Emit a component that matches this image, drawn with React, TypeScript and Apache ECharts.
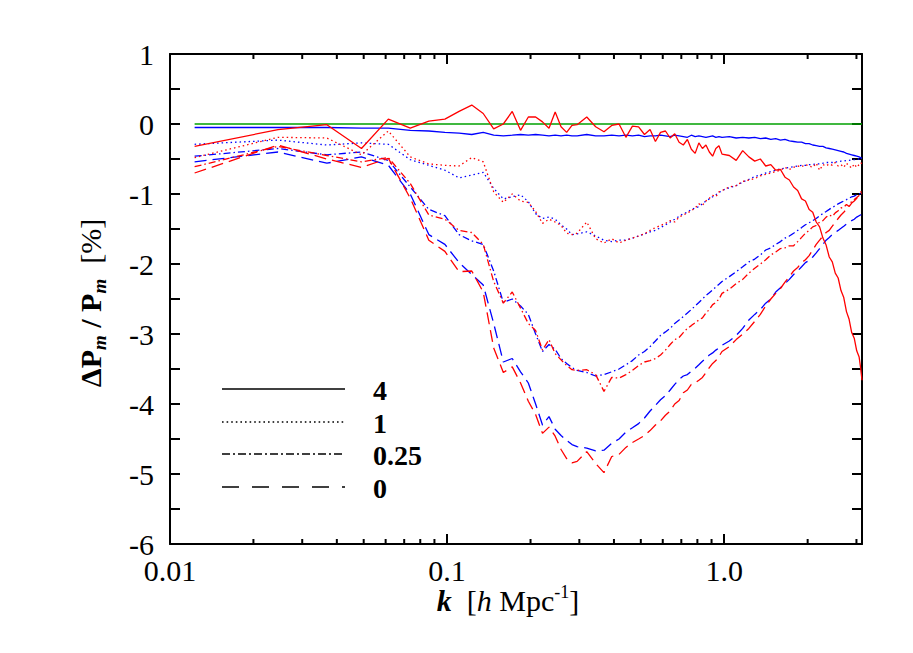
import React, { useEffect, useRef } from 'react';
import * as echarts from 'echarts';

// k bins [h/Mpc]
const kValues = [
  0.01227, 0.02454, 0.03682, 0.04909, 0.06136, 0.07363, 0.0859, 0.09817, 0.11045, 0.12272,
  0.13499, 0.14726, 0.15953, 0.1718, 0.18408, 0.19635, 0.20862, 0.22089, 0.23316, 0.24544,
  0.25771, 0.26998, 0.28225, 0.29452,
  0.31907, 0.34361, 0.36816, 0.3927, 0.41724, 0.44179, 0.46633, 0.49087, 0.51542, 0.53996,
  0.5645, 0.58905, 0.61359, 0.63814, 0.66268, 0.68722, 0.71177, 0.73631, 0.76085, 0.7854,
  0.80994, 0.83449, 0.85903, 0.88357, 0.90812, 0.93266, 0.9572, 0.98175,
  1.04311, 1.10447, 1.16583, 1.22718, 1.28854, 1.3499, 1.41126, 1.47262, 1.53398, 1.59534,
  1.6567, 1.71806, 1.77941, 1.84077, 1.90213, 1.96349, 2.02485, 2.08621, 2.14757, 2.20893,
  2.27029, 2.33165, 2.39301, 2.45437, 2.51573, 2.57709, 2.63845, 2.69981, 2.76117, 2.82252,
  2.88388, 2.94524, 3.0066, 3.06796, 3.10478, 3.14159,
];

// red = one simulation set, blue = the other; labels 4, 1, 0.25, 0
const red4 = [
  -0.32, -0.08, -0.01, -0.35, 0.07, -0.06, 0.04, 0.07, 0.18, 0.27, 0.15, -0.07, 0.0, 0.18, -0.09, 0.1, 0.1, 0.03, -0.06, 0.17, -0.04, -0.12, -0.02, -0.01,
  0.1, -0.04, -0.11, -0.02, 0.0, -0.19, -0.03, -0.04, -0.15, -0.08, -0.25, -0.12, -0.1, -0.2, -0.14, -0.26, -0.3, -0.22, -0.36, -0.42, -0.27, -0.35, -0.3, -0.4, -0.46, -0.35, -0.31, -0.43,
  -0.45, -0.52, -0.38, -0.47, -0.53, -0.5, -0.6, -0.58, -0.66, -0.65, -0.76, -0.8, -0.9, -0.95, -1.07, -1.1, -1.22, -1.26, -1.4, -1.47, -1.63, -1.73, -1.9, -1.97, -2.13, -2.2, -2.38, -2.48, -2.68, -2.79, -2.98, -3.06, -3.24, -3.33,
  -3.48, -3.66,
];
const blue4 = [
  -0.05, -0.05, -0.05, -0.06, -0.06, -0.09, -0.1, -0.12, -0.13, -0.15, -0.12, -0.16, -0.17, -0.16, -0.15, -0.16, -0.15, -0.16, -0.17, -0.16, -0.17, -0.16, -0.17, -0.17,
  -0.15, -0.17, -0.17, -0.16, -0.17, -0.16, -0.17, -0.16, -0.18, -0.17, -0.17, -0.16, -0.17, -0.18, -0.16, -0.17, -0.18, -0.19, -0.16, -0.18, -0.17, -0.18, -0.19, -0.18, -0.17, -0.19, -0.18, -0.19,
  -0.18, -0.2, -0.19, -0.2, -0.19, -0.21, -0.2, -0.22, -0.21, -0.23, -0.22, -0.24, -0.25, -0.26, -0.26, -0.28, -0.28, -0.3, -0.31, -0.32, -0.32, -0.34, -0.35, -0.36, -0.37, -0.38, -0.39, -0.4, -0.42, -0.43, -0.44, -0.45, -0.46, -0.47,
  -0.48, -0.49,
];
const red1 = [
  -0.48, -0.19, -0.2, -0.44, -0.1, -0.47, -0.57, -0.59, -0.6, -0.48, -0.54, -0.97, -1.12, -1.0, -1.1, -1.12, -1.25, -1.42, -1.36, -1.4, -1.45, -1.56, -1.58, -1.56,
  -1.4, -1.64, -1.7, -1.64, -1.7, -1.66, -1.63, -1.6, -1.57, -1.52, -1.48, -1.45, -1.42, -1.38, -1.4, -1.33, -1.3, -1.27, -1.24, -1.2, -1.14, -1.16, -1.1, -1.06, -1.02, -1.04, -0.97, -0.95,
  -0.9, -0.88, -0.82, -0.8, -0.78, -0.74, -0.72, -0.7, -0.68, -0.66, -0.62, -0.65, -0.62, -0.6, -0.61, -0.58, -0.6, -0.62, -0.56, -0.66, -0.58, -0.6, -0.57, -0.59, -0.55, -0.6, -0.58, -0.62, -0.56, -0.6, -0.63, -0.57, -0.62, -0.58,
  -0.55, -0.57,
];
const blue1 = [
  -0.29, -0.23, -0.3, -0.27, -0.29, -0.51, -0.59, -0.66, -0.77, -0.73, -0.69, -0.92, -1.07, -1.04, -1.01, -1.11, -1.28, -1.35, -1.33, -1.36, -1.44, -1.5, -1.58, -1.57,
  -1.54, -1.6, -1.66, -1.68, -1.66, -1.66, -1.63, -1.6, -1.57, -1.54, -1.52, -1.48, -1.44, -1.4, -1.36, -1.32, -1.28, -1.26, -1.22, -1.2, -1.18, -1.14, -1.1, -1.07, -1.04, -1.01, -0.98, -0.95,
  -0.91, -0.88, -0.83, -0.79, -0.75, -0.73, -0.7, -0.68, -0.66, -0.64, -0.63, -0.62, -0.61, -0.6, -0.59, -0.59, -0.58, -0.58, -0.57, -0.57, -0.56, -0.55, -0.55, -0.55, -0.54, -0.54, -0.53, -0.53, -0.52, -0.52, -0.51, -0.51, -0.5, -0.5,
  -0.49, -0.49,
];
const red025 = [
  -0.61, -0.32, -0.45, -0.54, -0.48, -0.85, -1.3, -1.36, -1.52, -1.55, -1.72, -2.25, -2.56, -2.4, -2.63, -2.85, -2.95, -3.23, -3.08, -3.28, -3.37, -3.45, -3.51, -3.52,
  -3.51, -3.58, -3.82, -3.62, -3.63, -3.58, -3.52, -3.45, -3.4, -3.38, -3.35, -3.3, -3.23, -3.15, -3.08, -3.05, -2.98, -2.92, -2.88, -2.84, -2.8, -2.77, -2.7, -2.65, -2.58, -2.55, -2.5, -2.42,
  -2.36, -2.28, -2.22, -2.13, -2.06, -2.0, -1.94, -1.87, -1.83, -1.78, -1.77, -1.74, -1.74, -1.68, -1.62, -1.56, -1.52, -1.47, -1.45, -1.4, -1.38, -1.33, -1.3, -1.32, -1.27, -1.24, -1.2, -1.19, -1.15, -1.18, -1.1, -1.08, -1.05, -1.02,
  -0.98, -0.94,
];
const blue025 = [
  -0.46, -0.35, -0.44, -0.4, -0.52, -0.9, -1.22, -1.31, -1.58, -1.67, -1.72, -2.1, -2.55, -2.5, -2.6, -2.72, -3.0, -3.25, -3.15, -3.22, -3.35, -3.42, -3.48, -3.52,
  -3.55, -3.6, -3.58, -3.54, -3.5, -3.44, -3.38, -3.3, -3.25, -3.18, -3.1, -3.02, -2.97, -2.92, -2.85, -2.8, -2.75, -2.7, -2.65, -2.6, -2.55, -2.5, -2.45, -2.41, -2.37, -2.33, -2.29, -2.25,
  -2.18, -2.11, -2.04, -1.97, -1.93, -1.87, -1.8, -1.77, -1.72, -1.68, -1.63, -1.6, -1.56, -1.52, -1.48, -1.44, -1.41, -1.38, -1.35, -1.31, -1.28, -1.25, -1.22, -1.19, -1.17, -1.14, -1.12, -1.1, -1.08, -1.06, -1.04, -1.03, -1.01, -1.0,
  -0.99, -0.97,
];
const red0 = [
  -0.7, -0.3, -0.5, -0.62, -0.49, -1.06, -1.66, -1.82, -2.11, -2.1, -2.4, -3.2, -3.55, -3.47, -3.7, -3.96, -4.15, -4.42, -4.33, -4.46, -4.65, -4.78, -4.84, -4.82,
  -4.68, -4.85, -4.98, -4.75, -4.72, -4.62, -4.55, -4.5, -4.45, -4.38, -4.3, -4.24, -4.16, -4.1, -4.0, -3.95, -3.84, -3.8, -3.72, -3.7, -3.66, -3.62, -3.55, -3.48, -3.42, -3.38, -3.32, -3.25,
  -3.18, -3.08, -3.0, -2.92, -2.82, -2.72, -2.6, -2.5, -2.42, -2.35, -2.26, -2.18, -2.1, -2.05, -1.98, -1.94, -1.88, -1.8, -1.72, -1.66, -1.6, -1.55, -1.52, -1.46, -1.4, -1.35, -1.3, -1.26, -1.22, -1.18, -1.13, -1.1, -1.06, -1.04,
  -1.0, -0.99,
];
const blue0 = [
  -0.54, -0.4, -0.56, -0.47, -0.59, -1.0, -1.58, -1.72, -1.98, -2.15, -2.3, -2.85, -3.4, -3.35, -3.54, -3.7, -4.0, -4.3, -4.18, -4.36, -4.45, -4.52, -4.58, -4.61,
  -4.63, -4.67, -4.66, -4.56, -4.5, -4.4, -4.34, -4.28, -4.2, -4.1, -4.02, -3.94, -3.88, -3.8, -3.72, -3.65, -3.6, -3.58, -3.53, -3.49, -3.44, -3.39, -3.34, -3.3, -3.27, -3.23, -3.2, -3.16,
  -3.1, -3.02, -2.92, -2.8, -2.72, -2.65, -2.56, -2.5, -2.4, -2.34, -2.28, -2.22, -2.15, -2.1, -2.04, -1.98, -1.95, -1.9, -1.84, -1.78, -1.72, -1.66, -1.62, -1.58, -1.55, -1.52, -1.49, -1.46, -1.43, -1.41, -1.38, -1.36, -1.33, -1.31,
  -1.3, -1.28,
];

const zeroK = [0.01227, 3.14159];
const zeroV = [0, 0];

const minorTickK = [0.02, 0.03, 0.04, 0.05, 0.06, 0.07, 0.08, 0.09, 0.2, 0.3, 0.4, 0.5, 0.6, 0.7, 0.8, 0.9, 2, 3];
const xTickLabels: Record<string, string> = { '-2': '0.01', '-1': '0.1', '0': '1.0' };
const legendLabels = ['4', '1', '0.25', '0'];

const FONT = '"Liberation Serif", "Times New Roman", serif';
const RED = '#ff0000';
const BLUE = '#0000ff';
const GREEN = '#00a000';
const DOT = [1.5, 3];
const DASHDOT = [7, 3, 1.5, 3];
const DASH = [12, 6];
const styles: any[] = ['solid', DOT, DASHDOT, DASH];
const legendDash: any[] = [null, [1.6, 3], [8, 3, 2, 3], [17, 13]];

export default function App() {
  const ref = useRef<HTMLDivElement>(null);
  useEffect(() => {
    if (!ref.current) return;
    const chart = echarts.init(ref.current, undefined, { renderer: 'svg' });

    const line = (name: string, vals: number[], color: string, type: any, z: number) => ({
      type: 'line',
      name,
      data: kValues.map((k, i) => [k, vals[i]]),
      showSymbol: false,
      symbol: 'none',
      silent: true,
      z,
      lineStyle: { color, width: 1.3, type },
    });

    const axisLineStyle = { color: '#000', width: 2 };
    const baseX = {
      type: 'log',
      logBase: 10,
      min: 0.01,
      max: 3.14159,
      splitLine: { show: false },
      axisLine: { show: true, onZero: false, lineStyle: axisLineStyle },
      axisTick: { show: true, inside: true, length: 10, lineStyle: axisLineStyle },
    };
    const baseY = {
      type: 'value',
      min: -6,
      max: 1,
      interval: 1,
      splitLine: { show: false },
      axisLine: { show: true, onZero: false, lineStyle: axisLineStyle },
      axisTick: { show: true, inside: true, length: 10, lineStyle: axisLineStyle },
      minorTick: { show: true, splitNumber: 2, length: 10, lineStyle: axisLineStyle },
    };

    const legendGraphics: any[] = [];
    const legendY = [389, 422, 454, 487];
    legendLabels.forEach((lab, i) => {
      legendGraphics.push({
        type: 'line',
        silent: true,
        shape: { x1: 222, y1: legendY[i], x2: 345, y2: legendY[i] },
        style: { stroke: '#000', lineWidth: 1.6, lineDash: legendDash[i] || undefined },
      });
      legendGraphics.push({
        type: 'text',
        silent: true,
        x: 373,
        y: legendY[i] + 1,
        style: {
          text: lab,
          fill: '#000',
          font: `bold 28px ${FONT}`,
          align: 'left',
          verticalAlign: 'middle',
        },
      });
    });

    chart.setOption({
      animation: false,
      backgroundColor: '#fff',
      grid: { left: 170, right: 51, top: 54, bottom: 109, containLabel: false },
      xAxis: [
        {
          ...baseX,
          position: 'bottom',
          axisLabel: {
            show: true,
            margin: 11,
            color: '#000',
            fontFamily: FONT,
            fontSize: 30,
            formatter: (v: number) => {
              const e = Math.log10(v);
              const r = Math.round(e);
              if (Math.abs(e - r) > 1e-6) return '';
              return xTickLabels[String(r)] || '';
            },
          },
        },
        { ...baseX, position: 'top', axisLabel: { show: false } },
      ],
      yAxis: [
        {
          ...baseY,
          position: 'left',
          axisLabel: { show: true, margin: 16, color: '#000', fontFamily: FONT, fontSize: 30 },
        },
        { ...baseY, position: 'right', axisLabel: { show: false } },
      ],
      series: [
        {
          type: 'line',
          name: 'zero',
          data: zeroK.map((k, i) => [k, zeroV[i]]),
          showSymbol: false,
          symbol: 'none',
          silent: true,
          z: 1,
          lineStyle: { color: GREEN, width: 1.5 },
        },
        line('blue 4', blue4, BLUE, styles[0], 2),
        line('blue 1', blue1, BLUE, styles[1], 2),
        line('blue 0.25', blue025, BLUE, styles[2], 2),
        line('blue 0', blue0, BLUE, styles[3], 2),
        line('red 4', red4, RED, styles[0], 3),
        line('red 1', red1, RED, styles[1], 3),
        line('red 0.25', red025, RED, styles[2], 3),
        line('red 0', red0, RED, styles[3], 3),
        {
          type: 'custom',
          name: 'minor ticks',
          silent: true,
          clip: false,
          z: 10,
          data: minorTickK.map((k) => [k, -6]),
          renderItem: (_params: any, api: any) => {
            const b = api.coord([api.value(0), -6]);
            const t = api.coord([api.value(0), 1]);
            return {
              type: 'group',
              children: [
                { type: 'line', shape: { x1: b[0], y1: b[1], x2: b[0], y2: b[1] - 5 }, style: { stroke: '#000', lineWidth: 2 } },
                { type: 'line', shape: { x1: t[0], y1: t[1], x2: t[0], y2: t[1] + 5 }, style: { stroke: '#000', lineWidth: 2 } },
              ],
            };
          },
        },
      ],
      graphic: [
        ...legendGraphics,
        {
          type: 'text',
          silent: true,
          x: 508,
          y: 600,
          style: {
            text: '{bi|k}{n|  [}{i|h}{n| Mpc}{sup|-1}{n|]}',
            align: 'center',
            verticalAlign: 'middle',
            fill: '#000',
            rich: {
              bi: { fontFamily: FONT, fontSize: 30, fontStyle: 'italic', fontWeight: 'bold', lineHeight: 34 },
              i: { fontFamily: FONT, fontSize: 30, fontStyle: 'italic', lineHeight: 34 },
              n: { fontFamily: FONT, fontSize: 30, lineHeight: 34 },
              sup: { fontFamily: FONT, fontSize: 18, verticalAlign: 'top', lineHeight: 22 },
            },
          },
        },
        {
          type: 'text',
          silent: true,
          x: 92,
          y: 303,
          rotation: Math.PI / 2,
          style: {
            text: '{b|\u0394P}{sub|m}{b| / P}{sub|m}{n|  [%]}',
            align: 'center',
            verticalAlign: 'middle',
            fill: '#000',
            rich: {
              b: { fontFamily: FONT, fontSize: 30, fontWeight: 'bold', lineHeight: 34, verticalAlign: 'top' },
              n: { fontFamily: FONT, fontSize: 30, lineHeight: 34, verticalAlign: 'top' },
              sub: {
                fontFamily: FONT,
                fontSize: 19,
                fontWeight: 'bold',
                fontStyle: 'italic',
                verticalAlign: 'bottom',
                lineHeight: 22,
                padding: [15, 0, 0, 0],
              },
            },
          },
        },
      ],
    });

    return () => chart.dispose();
  }, []);

  return (
    <div
      ref={ref}
      style={{ position: 'absolute', left: 0, top: 0, width: 913, height: 653, background: '#fff' }}
    />
  );
}
